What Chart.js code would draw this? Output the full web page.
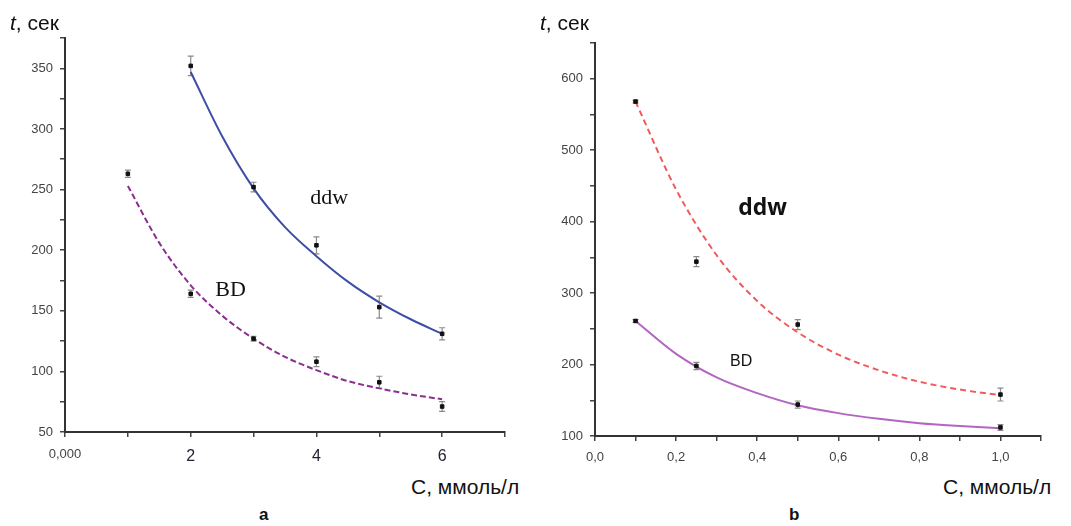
<!DOCTYPE html>
<html>
<head>
<meta charset="utf-8">
<script src="https://cdn.jsdelivr.net/npm/chart.js@4.4.0/dist/chart.umd.min.js"></script>
<style>
  body { margin: 0; background: #fff; width: 1071px; height: 526px; overflow: hidden; position: relative; font-family: "Liberation Sans", Arial, sans-serif; }
  canvas { position: absolute; top: 0; }
  .txt { position: absolute; color: #111; white-space: nowrap; line-height: 1; }
</style>
</head>
<body>
<canvas id="chartA" width="535" height="470" style="left:0"></canvas>
<canvas id="chartB" width="536" height="470" style="left:535px"></canvas>

<div class="txt" style="left:10px; top:12px; font-size:21px;"><i>t</i>, сек</div>
<div class="txt" style="left:411px; top:476px; font-size:21px;">C, ммоль/л</div>
<div class="txt" style="left:259px; top:506px; font-size:17px; font-weight:bold;">a</div>

<div class="txt" style="left:540px; top:12px; font-size:21px;"><i>t</i>, сек</div>
<div class="txt" style="left:943px; top:476px; font-size:21px;">C, ммоль/л</div>
<div class="txt" style="left:789px; top:506px; font-size:17px; font-weight:bold;">b</div>

<script>
// panel a data (C in mmol/l, t in sec)
const concA_ddw = [2, 3, 4, 5, 6];
const timeA_ddw = [352, 252, 204, 153, 131];
const errA_ddw = [8, 4, 7, 9, 5];

const concA_bd = [1, 2, 3, 4, 5, 6];
const timeA_bd = [263, 164, 127, 108, 91, 71];
const errA_bd = [3, 3, 2, 4, 5, 4];

// fitted curves
const fitConcA_ddw = [2, 2.5, 3, 3.5, 4, 4.5, 5, 5.5, 6];
const fitTimeA_ddw = [347, 294, 251, 219, 195, 174, 157, 143, 131];
const fitConcA_bd = [1, 1.5, 2, 2.5, 3, 3.5, 4, 4.5, 5, 5.5, 6];
const fitTimeA_bd = [253, 206, 171, 146, 127, 112, 101, 92, 86, 81, 77];

// panel b data
const concB = [0.1, 0.25, 0.5, 1.0];
const timeB_ddw = [568, 344, 256, 158];
const errB_ddw = [2, 7, 7, 9];
const timeB_bd = [261, 198, 144, 112];
const errB_bd = [2, 5, 5, 4];

const fitConcB = [0.1, 0.2, 0.3, 0.4, 0.5, 0.6, 0.7, 0.8, 0.9, 1.0];
const fitTimeB_ddw = [568, 445, 353, 289, 245, 214, 192, 176, 165, 157];
const fitTimeB_bd = [261, 215, 182, 160, 143, 132, 124, 118, 114, 111];

function toPoints(xs, ys) {
    return xs.map(function (x, i) { return { x: x, y: ys[i] }; });
}

// error bars, drawn under the markers
const errorBars = {
    id: 'errorBars',
    beforeDatasetsDraw(chart) {
        const ctx = chart.ctx;
        const yScale = chart.scales.y;
        ctx.save();
        ctx.strokeStyle = '#8a8a8a';
        ctx.lineWidth = 1.2;
        chart.data.datasets.forEach(function (ds, di) {
            if (!ds.errors) return;
            const meta = chart.getDatasetMeta(di);
            meta.data.forEach(function (pt, i) {
                const v = ds.data[i].y;
                const top = yScale.getPixelForValue(v + ds.errors[i]);
                const bot = yScale.getPixelForValue(v - ds.errors[i]);
                ctx.beginPath();
                ctx.moveTo(pt.x, top); ctx.lineTo(pt.x, bot);
                ctx.moveTo(pt.x - 3, top); ctx.lineTo(pt.x + 3, top);
                ctx.moveTo(pt.x - 3, bot); ctx.lineTo(pt.x + 3, bot);
                ctx.stroke();
            });
        });
        ctx.restore();
    }
};

// curve names placed in data coordinates
function curveLabels(items) {
    return {
        id: 'curveLabels',
        afterDraw(chart) {
            const ctx = chart.ctx;
            ctx.save();
            items.forEach(function (it) {
                ctx.font = it.font;
                ctx.fillStyle = '#111';
                ctx.textAlign = 'left';
                ctx.textBaseline = 'middle';
                ctx.fillText(it.text, chart.scales.x.getPixelForValue(it.x), chart.scales.y.getPixelForValue(it.y));
            });
            ctx.restore();
        }
    };
}

function markerSet(pts, errs) {
    return {
        data: pts,
        errors: errs,
        showLine: false,
        pointStyle: 'rect',
        pointRadius: 2.5,
        pointBackgroundColor: '#111',
        pointBorderColor: '#111',
        order: 0
    };
}

function fitSet(pts, color, dash) {
    return {
        data: pts,
        showLine: true,
        pointRadius: 0,
        borderColor: color,
        borderWidth: 2,
        borderDash: dash,
        cubicInterpolationMode: 'monotone',
        order: 1
    };
}

function axis(opts) {
    return Object.assign({
        type: 'linear',
        grid: { display: true, drawOnChartArea: false, drawTicks: true, tickLength: 5, color: '#444', lineWidth: 1.5 },
        border: { display: true, color: '#333', width: 2 }
    }, opts);
}

const tickFont = { family: '"Liberation Sans", Arial, sans-serif', size: 13 };
const bigTickFont = { family: '"Liberation Sans", Arial, sans-serif', size: 16 };

function isZeroTick(c) {
    return !c.tick || c.tick.value === 0;
}

// chart a
const chartA = new Chart(document.getElementById('chartA'), {
    type: 'scatter',
    data: {
        datasets: [
            fitSet(toPoints(fitConcA_ddw, fitTimeA_ddw), '#3e4ea6', []),
            fitSet(toPoints(fitConcA_bd, fitTimeA_bd), '#8b2f8f', [6, 3]),
            markerSet(toPoints(concA_ddw, timeA_ddw), errA_ddw),
            markerSet(toPoints(concA_bd, timeA_bd), errA_bd)
        ]
    },
    options: {
        responsive: false,
        devicePixelRatio: 1,
        animation: false,
        layout: { padding: { top: 38, right: 30, left: 0, bottom: 0 } },
        plugins: { legend: { display: false }, tooltip: { enabled: false } },
        scales: {
            x: axis({
                min: 0, max: 7,
                afterFit(scale) { scale.height = 38; },
                ticks: {
                    stepSize: 1, padding: 10, autoSkip: false, maxRotation: 0,
                    color: function (c) { return isZeroTick(c) ? '#444' : '#223'; },
                    font: function (c) { return isZeroTick(c) ? tickFont : bigTickFont; },
                    callback: function (v) {
                        if (v === 0) return '0,000';
                        return (v % 2 === 0) ? String(v) : '';
                    }
                }
            }),
            y: axis({
                min: 50, max: 375,
                afterFit(scale) { scale.width = 65; },
                ticks: {
                    stepSize: 25, padding: 7, autoSkip: false, color: '#444', font: tickFont,
                    callback: function (v) { return (v % 50 === 0 && v <= 350) ? String(v) : ''; }
                }
            })
        }
    },
    plugins: [errorBars, curveLabels([
        { text: 'ddw', x: 3.9, y: 243, font: '22px "Liberation Serif", "Times New Roman", serif' },
        { text: 'BD', x: 2.39, y: 167, font: '22px "Liberation Serif", "Times New Roman", serif' }
    ])]
});

// chart b
const chartB = new Chart(document.getElementById('chartB'), {
    type: 'scatter',
    data: {
        datasets: [
            fitSet(toPoints(fitConcB, fitTimeB_ddw), '#f05a5a', [6, 4]),
            fitSet(toPoints(fitConcB, fitTimeB_bd), '#b266c2', []),
            markerSet(toPoints(concB, timeB_ddw), errB_ddw),
            markerSet(toPoints(concB, timeB_bd), errB_bd)
        ]
    },
    options: {
        responsive: false,
        devicePixelRatio: 1,
        animation: false,
        layout: { padding: { top: 43, right: 30, left: 0, bottom: 0 } },
        plugins: { legend: { display: false }, tooltip: { enabled: false } },
        scales: {
            x: axis({
                min: 0, max: 1.1,
                afterFit(scale) { scale.height = 34; },
                ticks: {
                    stepSize: 0.1, padding: 9, autoSkip: false, maxRotation: 0, color: '#444', font: tickFont,
                    callback: function (v) {
                        const k = Math.round(v * 10);
                        return (k % 2 === 0 && k <= 10) ? (k / 10).toFixed(1).replace('.', ',') : '';
                    }
                }
            }),
            y: axis({
                min: 100, max: 650,
                afterFit(scale) { scale.width = 60; },
                ticks: {
                    stepSize: 50, padding: 7, autoSkip: false, color: '#444', font: tickFont,
                    callback: function (v) { return (v % 100 === 0 && v <= 600) ? String(v) : ''; }
                }
            })
        }
    },
    plugins: [errorBars, curveLabels([
        { text: 'ddw', x: 0.353, y: 418, font: 'bold 23px "Open Sans", "Liberation Sans", sans-serif' },
        { text: 'BD', x: 0.333, y: 204, font: '16px "Liberation Sans", Arial, sans-serif' }
    ])]
});
</script>
</body>
</html>
